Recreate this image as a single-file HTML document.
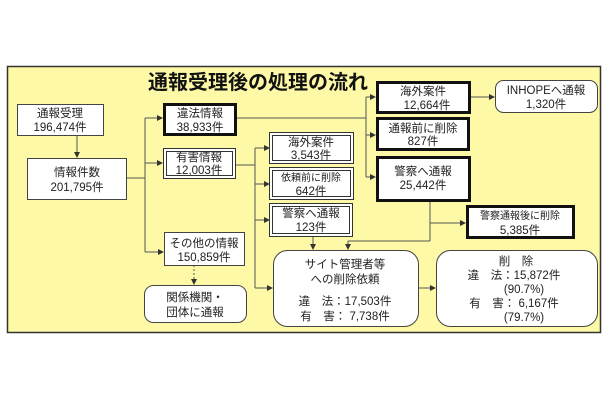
<!DOCTYPE html>
<html><head><meta charset="utf-8"><style>
body{margin:0;background:#fff;width:610px;height:400px;overflow:hidden}
text{font-family:"Liberation Sans","Noto Sans CJK JP",sans-serif;font-size:11.5px;fill:#222;text-anchor:middle}
</style></head><body>
<svg width="610" height="400" viewBox="0 0 610 400">
<defs><marker id="a" markerWidth="6" markerHeight="6" refX="5" refY="3" orient="auto" markerUnits="userSpaceOnUse"><path d="M0,0L6,3L0,6z" fill="#333"/></marker></defs>
<rect x="7.5" y="66.5" width="593" height="266" fill="#fdf9a6" stroke="#333" stroke-width="1.5"/>
<text x="258" y="89" style="font-size:20px;font-weight:bold;fill:#111">通報受理後の処理の流れ</text>
<g stroke="#555" stroke-width="1" fill="none">
<line x1="77" y1="135" x2="77" y2="157" marker-end="url(#a)"/>
<line x1="126" y1="178" x2="145" y2="178"/>
<line x1="145" y1="118" x2="145" y2="252"/>
<line x1="145" y1="118" x2="162" y2="118" marker-end="url(#a)"/>
<line x1="145" y1="163" x2="162" y2="163" marker-end="url(#a)"/>
<line x1="145" y1="252" x2="163" y2="252" marker-end="url(#a)"/>
<line x1="194" y1="265" x2="194" y2="284" stroke-dasharray="2,2" marker-end="url(#a)"/>
<line x1="236" y1="118" x2="366" y2="118"/>
<line x1="366" y1="97" x2="366" y2="177"/>
<line x1="366" y1="97" x2="375" y2="97" marker-end="url(#a)"/>
<line x1="366" y1="135" x2="375" y2="135" marker-end="url(#a)"/>
<line x1="366" y1="177" x2="375" y2="177" marker-end="url(#a)"/>
<line x1="470" y1="97" x2="494" y2="97" marker-end="url(#a)"/>
<line x1="235" y1="165" x2="255" y2="165"/>
<line x1="255" y1="148" x2="255" y2="288"/>
<line x1="255" y1="148" x2="269" y2="148" marker-end="url(#a)"/>
<line x1="255" y1="184" x2="269" y2="184" marker-end="url(#a)"/>
<line x1="255" y1="220" x2="269" y2="220" marker-end="url(#a)"/>
<line x1="255" y1="288" x2="272" y2="288" marker-end="url(#a)"/>
<line x1="313" y1="236" x2="313" y2="249" marker-end="url(#a)"/>
<line x1="430" y1="201" x2="430" y2="241"/>
<line x1="430" y1="223" x2="465" y2="223" marker-end="url(#a)"/>
<line x1="430" y1="241" x2="348" y2="241"/>
<line x1="348" y1="241" x2="348" y2="249" marker-end="url(#a)"/>
<line x1="418" y1="288" x2="435" y2="288" marker-end="url(#a)"/>
</g>
<g fill="#fff" stroke="#444" stroke-width="1">
<rect x="17.5" y="104.5" width="86" height="31"/>
<rect x="27.5" y="158.5" width="99" height="41"/>
<rect x="164.5" y="232.5" width="80" height="33"/>
<rect x="144.5" y="285.5" width="102" height="37" rx="9"/>
<rect x="495.5" y="80.5" width="102" height="32" rx="8"/>
<rect x="273.5" y="250.5" width="145" height="76" rx="14"/>
<rect x="436.5" y="250.5" width="161" height="76" rx="14"/>
</g>
<g fill="#fff" stroke="#111" stroke-width="3">
<rect x="164.5" y="104.5" width="71" height="30"/>
<rect x="377.5" y="82.5" width="92" height="30"/>
<rect x="377.5" y="118.5" width="91" height="31"/>
<rect x="377.5" y="157.5" width="92" height="43"/>
<rect x="467.5" y="206.5" width="106" height="31"/>
</g>
<g fill="#fff" stroke="#333" stroke-width="1">
<rect x="163.5" y="148.5" width="72" height="30"/><rect x="166.5" y="151.5" width="66" height="24"/>
<rect x="269.5" y="132.5" width="84" height="31"/><rect x="272.5" y="135.5" width="78" height="25"/>
<rect x="269.5" y="167.5" width="84" height="32"/><rect x="272.5" y="170.5" width="78" height="26"/>
<rect x="269.5" y="203.5" width="83" height="33"/><rect x="272.5" y="206.5" width="77" height="27"/>
</g>
<text x="60" y="117">通報受理</text><text x="60" y="131">196,474件</text>
<text x="77" y="176">情報件数</text><text x="77" y="191">201,795件</text>
<text x="200" y="117">違法情報</text><text x="200" y="131">38,933件</text>
<text x="199" y="161">有害情報</text><text x="199" y="174">12,003件</text>
<text x="204" y="247">その他の情報</text><text x="204" y="261">150,859件</text>
<text x="195" y="301">関係機関・</text><text x="195" y="316">団体に通報</text>
<text x="311" y="146">海外案件</text><text x="311" y="159">3,543件</text>
<text x="311" y="181" style="font-size:10px">依頼前に削除</text><text x="311" y="195">642件</text>
<text x="311" y="217">警察へ通報</text><text x="311" y="231">123件</text>
<text x="423" y="95">海外案件</text><text x="427" y="109">12,664件</text>
<text x="423" y="132">通報前に削除</text><text x="423" y="145">827件</text>
<text x="423" y="175">警察へ通報</text><text x="423" y="189">25,442件</text>
<text x="546" y="94">INHOPEへ通報</text><text x="546" y="108">1,320件</text>
<text x="520" y="219" style="font-size:10px">警察通報後に削除</text><text x="520" y="234">5,385件</text>
<text x="345" y="268">サイト管理者等</text><text x="345" y="283">への削除依頼</text>
<text x="345" y="305">違　法：17,503件</text><text x="345" y="320">有　害：  7,738件</text>
<text x="516" y="265">削　除</text>
<text x="514" y="279">違　法：15,872件</text><text x="524" y="293">(90.7%)</text>
<text x="514" y="307">有　害：  6,167件</text><text x="524" y="321">(79.7%)</text>
</svg>
</body></html>
